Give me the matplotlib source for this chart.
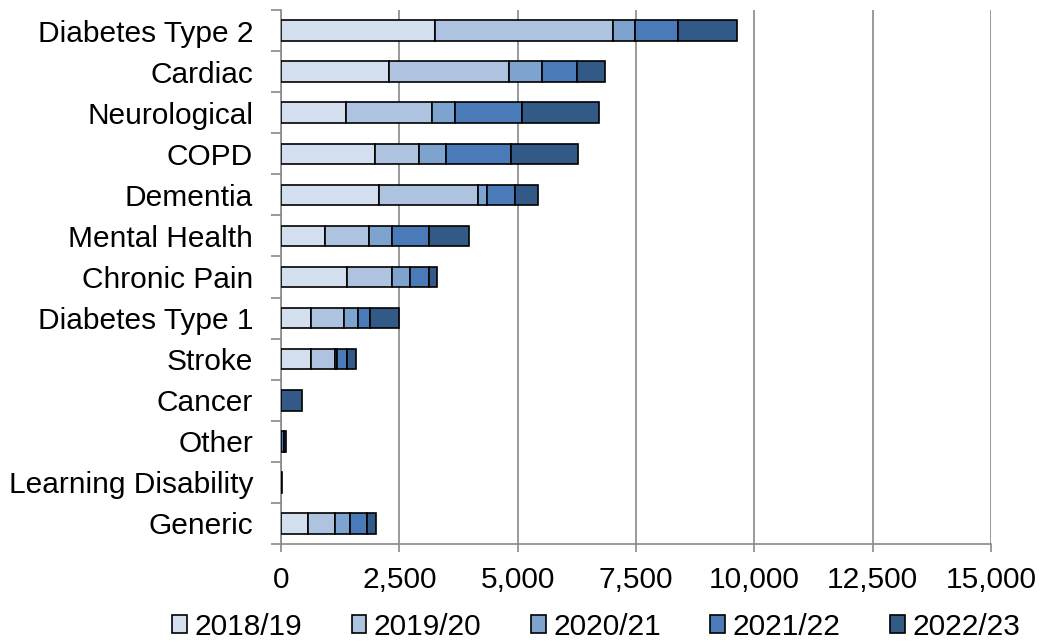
import matplotlib
matplotlib.use("Agg")
import matplotlib.pyplot as plt
import numpy as np
from matplotlib.ticker import FuncFormatter, FixedLocator

categories = ["Diabetes Type 2", "Cardiac", "Neurological", "COPD", "Dementia",
              "Mental Health", "Chronic Pain", "Diabetes Type 1", "Stroke",
              "Cancer", "Other", "Learning Disability", "Generic"]
years = ["2018/19", "2019/20", "2020/21", "2021/22", "2022/23"]

y2018 = [3247, 2282, 1373, 1979, 2063, 923, 1388, 634, 627, 0, 0, 0, 563]
y2019 = [3774, 2536, 1818, 930, 2100, 943, 958, 697, 507, 0, 0, 0, 571]
y2020 = [459, 704, 486, 571, 190, 480, 387, 289, 56, 0, 0, 0, 324]
y2021 = [915, 733, 1409, 1386, 598, 781, 401, 254, 204, 0, 55, 0, 359]
y2022 = [1247, 598, 1640, 1410, 486, 852, 156, 613, 197, 437, 50, 25, 184]

colors = ["#d3dfef", "#aec3e0", "#7ea3cf", "#4a7bb8", "#335a87"]

plt.rcParams["font.family"] = ["Liberation Sans", "DejaVu Sans"]
plt.rcParams["font.size"] = 21.5

fig = plt.figure(figsize=(10.44, 6.42), dpi=100)
ax = fig.add_axes([281 / 1044, 98 / 642, 710 / 1044, 534 / 642])

pos = np.arange(len(categories))
left = np.zeros(len(categories))
for name, vals, c in zip(years, [y2018, y2019, y2020, y2021, y2022], colors):
    vals = np.array(vals, dtype=float)
    ax.barh(pos, vals, left=left, height=0.5, color=c, edgecolor="black",
            linewidth=1.2, label=name, zorder=3)
    left += vals

ax.set_xlim(0, 15000)
ax.set_ylim(len(categories) - 0.5, -0.5)
ax.set_xticks(np.arange(0, 15001, 2500))
ax.xaxis.set_major_formatter(FuncFormatter(lambda v, p: f"{int(v):,}"))
ax.set_yticks(pos)
ax.set_yticklabels(categories)
ax.yaxis.set_minor_locator(FixedLocator(np.arange(-0.5, len(categories), 1)))

gray = "#898989"
ax.grid(axis="x", color=gray, linewidth=1.2, zorder=0)
ax.set_axisbelow(True)
for s in ["top", "right"]:
    ax.spines[s].set_visible(False)
for s in ["left", "bottom"]:
    ax.spines[s].set_color(gray)
    ax.spines[s].set_linewidth(1.2)
ax.tick_params(axis="y", which="major", length=0, pad=20)
ax.tick_params(axis="y", which="minor", length=7, color=gray, width=1.2)
ax.tick_params(axis="x", which="major", length=6, color=gray, width=1.2, pad=10)

fig.legend(loc="lower center", bbox_to_anchor=(0.571, -0.026), ncol=5, frameon=False,
           handlelength=0.5, handleheight=0.55, handletextpad=0.25, columnspacing=1.65,
           borderpad=0.1)

fig.savefig("out.png", dpi=100)
